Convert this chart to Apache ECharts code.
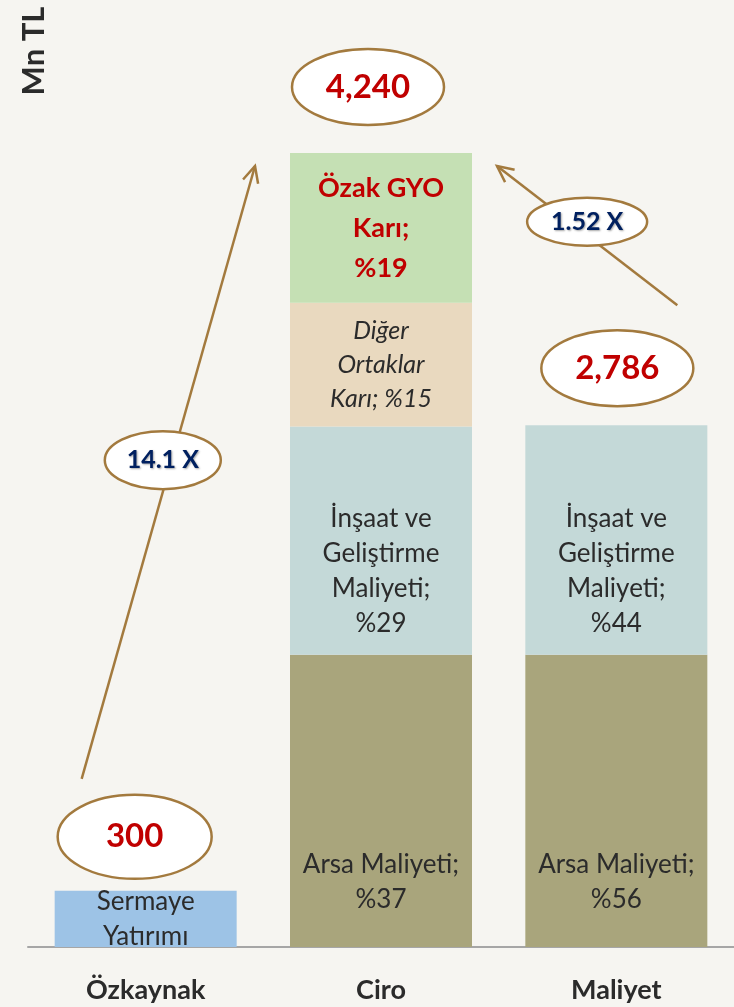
<!DOCTYPE html>
<html>
<head>
<meta charset="utf-8">
<script src="https://cdn.jsdelivr.net/npm/echarts@6/dist/echarts.min.js"></script>
<style>
  html, body { margin: 0; padding: 0; background: #f6f5f1; }
  #chart { width: 734px; height: 1007px; }
</style>
</head>
<body>
<div id="chart"></div>
<script>
// data, Mn TL
const categories = ['Özkaynak', 'Ciro', 'Maliyet']
const sermaye = [300, '-', '-']
const arsa = ['-', 1560, 1560]
const insaat = ['-', 1220, 1226]
const diger = ['-', 660, '-']
const ozak = ['-', 800, '-']
const totals = [300, 4240, 2786]
const arsaPct = [null, 37, 56]
const insaatPct = [null, 29, 44]
const digerPct = [null, 15, null]
const ozakPct = [null, 19, null]

const FONT = 'Lato, "Open Sans", sans-serif'
const BROWN = '#a37a3e'
const DARK = '#2b2b2b'

const chart = echarts.init(document.getElementById('chart'))

const baseLabel = {
    show: true,
    color: DARK,
    fontFamily: FONT,
    fontSize: 26,
    lineHeight: 35,
}

const option = {
    backgroundColor: '#f6f5f1',
    animation: false,
    grid: { left: 28, right: -2, top: 153, bottom: 60 },
    xAxis: {
        type: 'category',
        data: categories,
        axisLine: { lineStyle: { color: '#a6a6a6', width: 2 } },
        axisTick: { show: false },
        axisLabel: { color: DARK, fontFamily: FONT, fontSize: 27, fontWeight: 'bold', margin: 30 },
    },
    yAxis: {
        type: 'value',
        min: 0,
        max: 4240,
        show: false,
    },
    series: [
        {
            name: 'Sermaye Yatırımı', type: 'bar', stack: 's', barWidth: 182,
            data: sermaye, itemStyle: { color: '#9dc3e6' },
            label: { ...baseLabel, position: 'inside', formatter: 'Sermaye\nYatırımı' },
        },
        {
            name: 'Arsa Maliyeti', type: 'bar', stack: 's',
            data: arsa, itemStyle: { color: '#a9a57c' },
            label: {
                ...baseLabel, position: 'insideBottom', distance: 30,
                formatter: p => `Arsa Maliyeti;\n%${arsaPct[p.dataIndex]}`,
            },
        },
        {
            name: 'İnşaat ve Geliştirme Maliyeti', type: 'bar', stack: 's',
            data: insaat, itemStyle: { color: '#c4d9d8' },
            label: {
                ...baseLabel, position: 'insideBottom', distance: 14,
                formatter: p => `İnşaat ve\nGeliştirme\nMaliyeti;\n%${insaatPct[p.dataIndex]}`,
            },
        },
        {
            name: 'Diğer Ortaklar Karı', type: 'bar', stack: 's',
            data: diger, itemStyle: { color: '#e9d9bf' },
            label: {
                ...baseLabel, position: 'inside', fontStyle: 'italic', fontSize: 25, lineHeight: 34,
                formatter: p => `Diğer\nOrtaklar\nKarı; %${digerPct[p.dataIndex]}`,
            },
        },
        {
            name: 'Özak GYO Karı', type: 'bar', stack: 's',
            data: ozak, itemStyle: { color: '#c5e0b4' },
            label: {
                ...baseLabel, position: 'inside', color: '#c00000', fontWeight: 'bold',
                fontSize: 27, lineHeight: 40,
                formatter: p => `Özak GYO\nKarı;\n%${ozakPct[p.dataIndex]}`,
            },
        },
    ],
}

chart.setOption(option)

// annotation layer: total ellipses, growth arrows, multiplier badges
const totalOffset = [[-11, -54], [-13, -66], [1, -57]]
const totalRadius = [[77, 42], [76, 38], [76, 38]]

function px (i, v) {
    return chart.convertToPixel({ gridIndex: 0 }, [i, v])
}

function fmt (v) {
    return v.toLocaleString('en-US')
}

function ellipse (cx, cy, rx, ry, text, color, size, shadow) {
    return [
        {
            type: 'ellipse',
            shape: { cx, cy, rx, ry },
            style: { fill: '#fff', stroke: BROWN, lineWidth: 2.5 },
            z: 10,
        },
        {
            type: 'text',
            x: cx, y: cy,
            style: {
                text, fill: color, font: `bold ${size}px ${FONT}`,
                align: 'center', verticalAlign: 'middle',
                textShadowColor: shadow ? 'rgba(0,0,0,0.35)' : 'transparent',
                textShadowBlur: shadow ? 2 : 0,
                textShadowOffsetX: shadow ? 1 : 0,
                textShadowOffsetY: shadow ? 1 : 0,
            },
            z: 11,
        },
    ]
}

function arrow (x1, y1, x2, y2) {
    const a = Math.atan2(y2 - y1, x2 - x1)
    const L = 18, w = Math.PI / 7
    return [
        { type: 'line', shape: { x1, y1, x2, y2 }, style: { stroke: BROWN, lineWidth: 2.5 }, z: 5 },
        {
            type: 'polyline',
            shape: { points: [
                [x2 - L * Math.cos(a - w), y2 - L * Math.sin(a - w)],
                [x2, y2],
                [x2 - L * Math.cos(a + w), y2 - L * Math.sin(a + w)],
            ] },
            style: { stroke: BROWN, lineWidth: 2.5, fill: null },
            z: 5,
        },
    ]
}

function drawAnnotations () {
    const els = []
    const halfBar = 91
    const tops = totals.map((t, i) => px(i, t))

    totals.forEach((t, i) => {
        const [x, y] = tops[i]
        els.push(...ellipse(x + totalOffset[i][0], y + totalOffset[i][1],
            totalRadius[i][0], totalRadius[i][1], fmt(t), '#c00000', 33, false))
    })

    // Özkaynak -> Ciro
    const s1 = [tops[0][0] - 64, tops[0][1] - 112]
    const e1 = [tops[1][0] - halfBar - 35, tops[1][1] + 13]
    els.push(...arrow(s1[0], s1[1], e1[0], e1[1]))
    const t1 = 0.52
    els.push(...ellipse(s1[0] + (e1[0] - s1[0]) * t1 - 9, s1[1] + (e1[1] - s1[1]) * t1,
        58, 29, (totals[1] / totals[0]).toFixed(1) + ' X', '#002060', 25, true))

    // Maliyet -> Ciro
    const s2 = [tops[2][0] + 61, tops[2][1] - 120]
    const e2 = [tops[1][0] + halfBar + 25, tops[1][1] + 13]
    els.push(...arrow(s2[0], s2[1], e2[0], e2[1]))
    const t2 = 0.6
    els.push(...ellipse(s2[0] + (e2[0] - s2[0]) * t2 + 18, s2[1] + (e2[1] - s2[1]) * t2,
        60, 24, (totals[1] / totals[2]).toFixed(2) + ' X', '#002060', 25, true))

    els.push({
        type: 'text',
        x: 34, y: 51,
        rotation: Math.PI / 2,
        style: {
            text: 'Mn TL', fill: DARK, font: `bold 31px ${FONT}`,
            align: 'center', verticalAlign: 'middle',
        },
        z: 10,
    })

    chart.setOption({ graphic: { elements: els } })
}

drawAnnotations()
</script>
</body>
</html>
